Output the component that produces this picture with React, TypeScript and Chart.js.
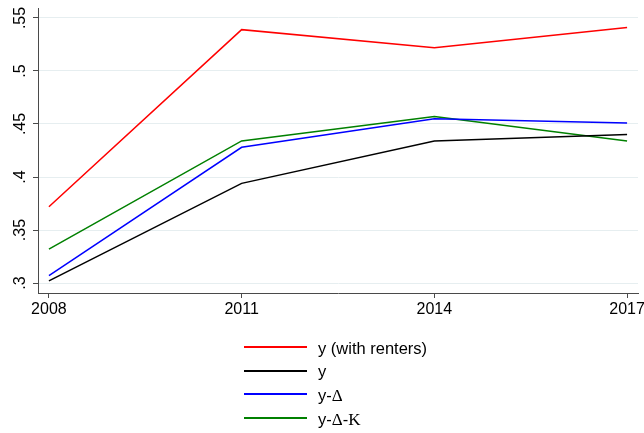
import React, { useEffect, useRef } from 'react';
import { Chart, registerables } from 'chart.js';

Chart.register(...registerables);

// Survey years and the four series
const years = [2008, 2011, 2014, 2017];
const yWithRenters = [0.372, 0.539, 0.522, 0.541];
const yBase = [0.302, 0.394, 0.434, 0.440];
const yDelta = [0.307, 0.428, 0.455, 0.451];
const yDeltaK = [0.332, 0.434, 0.457, 0.434];

const seriesValues = [yWithRenters, yBase, yDelta, yDeltaK];
const seriesNames = ['y (with renters)', 'y', 'y-Δ', 'y-Δ-K'];
const seriesColors = ['#ff0000', '#000000', '#0000ff', '#008000'];

// Axis ticks
const xTicks = [2008, 2011, 2014, 2017];
const yTicks = [0.3, 0.35, 0.4, 0.45, 0.5, 0.55];
const yTickLabels = ['.3', '.35', '.4', '.45', '.5', '.55'];

const X_MIN = 2007.83;
const X_MAX = 2017.17;
const Y_MIN = 0.2906;
const Y_MAX = 0.5594;

const AXIS_COLOR = '#4a4a4a';
const GRID_COLOR = '#e6eef0';
const SANS = "'Liberation Sans', Arial, sans-serif";
const SERIF = "'Liberation Serif', 'Times New Roman', serif";

function LegendText({ text }: { text: string }) {
  // Greek delta and K are set in a serif face, as in the labels' source
  const parts = text.split(/([ΔK])/).filter((p) => p.length > 0);
  return (
    <>
      {parts.map((p, i) =>
        p === 'Δ' || p === 'K' ? (
          <span key={i} style={{ fontFamily: SERIF, fontSize: 17 }}>
            {p}
          </span>
        ) : (
          <span key={i}>{p}</span>
        )
      )}
    </>
  );
}

export default function App() {
  const canvasRef = useRef<HTMLCanvasElement | null>(null);

  useEffect(() => {
    const canvas = canvasRef.current;
    if (!canvas) return;

    const chart = new Chart(canvas, {
      type: 'line',
      data: {
        datasets: seriesValues.map((vals, i) => ({
          label: seriesNames[i],
          data: years.map((yr, j) => ({ x: yr, y: vals[j] })),
          borderColor: seriesColors[i],
          backgroundColor: seriesColors[i],
          borderWidth: 1.5,
          pointRadius: 0,
          tension: 0,
          fill: false,
        })),
      },
      options: {
        animation: false,
        responsive: false,
        maintainAspectRatio: false,
        events: [],
        layout: { padding: { left: 0, right: 6, top: 8, bottom: 0 } },
        plugins: {
          legend: { display: false },
          tooltip: { enabled: false },
        },
        scales: {
          x: {
            type: 'linear',
            min: X_MIN,
            max: X_MAX,
            afterBuildTicks: (scale: any) => {
              scale.ticks = xTicks.map((v) => ({ value: v }));
            },
            afterFit: (scale: any) => {
              scale.height = 140;
              scale.paddingLeft = 0;
              scale.paddingRight = 0;
            },
            grid: {
              drawOnChartArea: false,
              drawTicks: true,
              tickLength: 5,
              tickColor: AXIS_COLOR,
              tickWidth: 1,
            },
            border: { color: AXIS_COLOR, width: 1 },
            ticks: {
              color: '#000',
              font: { family: SANS, size: 16 },
              padding: 2,
              minRotation: 0,
              maxRotation: 0,
              autoSkip: false,
              callback: (v: any) => String(v),
            },
          },
          y: {
            type: 'linear',
            min: Y_MIN,
            max: Y_MAX,
            afterBuildTicks: (scale: any) => {
              scale.ticks = yTicks.map((v) => ({ value: v }));
            },
            afterFit: (scale: any) => {
              scale.width = 38;
              scale.paddingTop = 0;
              scale.paddingBottom = 0;
            },
            grid: {
              color: GRID_COLOR,
              lineWidth: 1,
              drawTicks: true,
              tickLength: 5,
              tickColor: AXIS_COLOR,
              tickWidth: 1,
            },
            border: { color: AXIS_COLOR, width: 1 },
            ticks: {
              color: '#000',
              font: { family: SANS, size: 16 },
              minRotation: 90,
              maxRotation: 90,
              crossAlign: 'center',
              padding: 1,
              autoSkip: false,
              callback: (v: any) => {
                const i = yTicks.findIndex((t) => Math.abs(t - Number(v)) < 1e-9);
                return i >= 0 ? yTickLabels[i] : '';
              },
            },
          },
        },
      } as any,
    });

    return () => chart.destroy();
  }, []);

  return (
    <div
      style={{
        position: 'fixed',
        left: 0,
        top: 0,
        width: 644,
        height: 433,
        background: '#ffffff',
        overflow: 'hidden',
      }}
    >
      <canvas
        ref={canvasRef}
        width={644}
        height={433}
        style={{ display: 'block', width: 644, height: 433 }}
      />
      {seriesNames.map((name, i) => (
        <React.Fragment key={name}>
          <div
            style={{
              position: 'absolute',
              left: 244,
              top: 346 + i * 23.6,
              width: 63,
              height: 2,
              background: seriesColors[i],
            }}
          />
          <div
            style={{
              position: 'absolute',
              left: 318,
              top: 337.8 + i * 23.6,
              fontFamily: SANS,
              fontSize: 16.5,
              lineHeight: '20px',
              color: '#000',
              whiteSpace: 'nowrap',
            }}
          >
            <LegendText text={name} />
          </div>
        </React.Fragment>
      ))}
    </div>
  );
}
